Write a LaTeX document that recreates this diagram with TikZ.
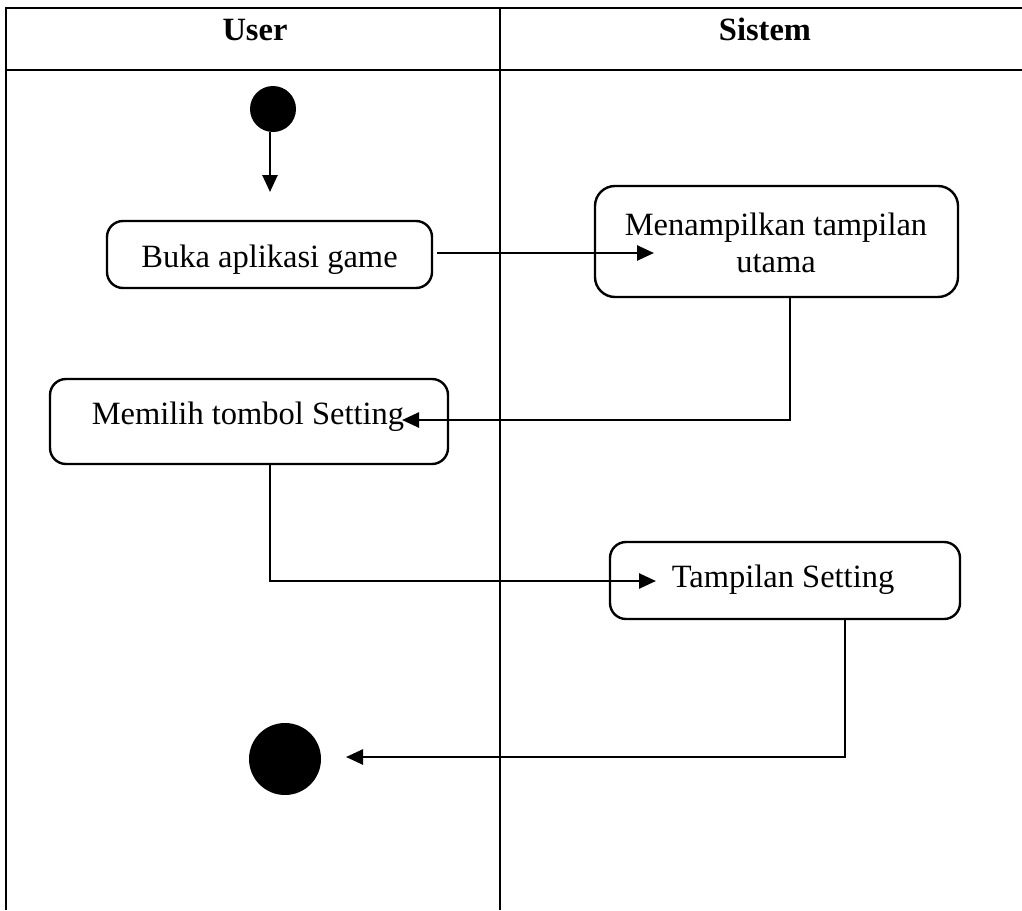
\documentclass[tikz,border=0pt]{standalone}
\usepackage{fontspec}
\setmainfont{Liberation Serif}
\usetikzlibrary{arrows.meta}
\begin{document}
\begin{tikzpicture}[x=1pt,y=-1pt,
  grid/.style={line width=2pt},
  activity/.style={draw,line width=2.4pt,rounded corners=16pt,inner sep=0pt},
  flow/.style={line width=2.6pt,-{Triangle[length=17pt,width=15pt]}},
  label/.style={font=\fontsize{32.5}{37}\selectfont,anchor=base,inner sep=0pt},
  head/.style={font=\fontsize{32.5}{37}\selectfont\bfseries,anchor=base,inner sep=0pt},
  dot/.style={fill=black,circle,inner sep=0pt}]
\useasboundingbox (0,0) rectangle (1022,910);
\fill[white] (0,0) rectangle (1022,910);

% swimlane frame
\draw[grid] (6,910) -- (6,8) -- (1022,8);
\draw[grid] (6,70) -- (1022,70);
\draw[grid] (500,8) -- (500,910);
\node[head] (hUser) at (255,40) {User};
\node[head] (hSistem) at (765,40) {Sistem};

% initial and final states
\node[dot,minimum size=46pt] (start) at (273,109) {};
\node[dot,minimum size=72pt] (stop) at (285,759) {};

% activities
\node[activity,minimum width=325pt,minimum height=67pt] (buka) at (269.5,254.5) {};
\node[label] (tBuka) at (269.5,267) {Buka aplikasi game};
\node[activity,minimum width=363pt,minimum height=111pt,rounded corners=20pt] (tampil) at (776.5,241.5) {};
% two-line label: base anchor sits on the last line
\node[label,align=center] (tTampil) at (776,272) {Menampilkan tampilan\\utama};
\node[activity,minimum width=398pt,minimum height=85pt] (pilih) at (249,421.5) {};
\node[label] (tPilih) at (248,424) {Memilih tombol Setting};
\node[activity,minimum width=350pt,minimum height=77pt] (setting) at (785,580.5) {};
\node[label] (tSetting) at (783,587) {Tampilan Setting};

% arrow tips and bends
\coordinate (t1) at (270,192);
\coordinate (t2) at (654,253);
\coordinate (b3) at (790,420);
\coordinate (t3) at (402,420);
\coordinate (b4) at (270,581);
\coordinate (t4) at (656,581);
\coordinate (b5) at (845,757);
\coordinate (t5) at (346,757);

% control flow
\draw[flow] (start.south -| t1) -- (t1);
\draw[flow] (buka.east |- t2) ++(4,0) -- (t2);
\draw[flow] (tampil.south -| b3) -- (b3) -- (t3);
\draw[flow] (pilih.south -| b4) -- (b4) -- (t4);
\draw[flow] (setting.south -| b5) -- (b5) -- (t5);
\end{tikzpicture}
\end{document}
